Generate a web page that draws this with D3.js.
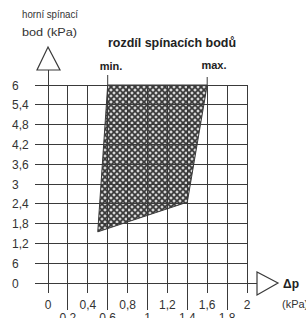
<!DOCTYPE html>
<html><head><meta charset="utf-8">
<script src="https://cdn.jsdelivr.net/npm/d3@7"></script>
<style>
html,body{margin:0;padding:0;background:#fff;}
svg{display:block;font-family:"Liberation Sans Narrow","Liberation Sans",Arial,sans-serif;}
</style></head>
<body>
<svg id="c" width="306" height="318"></svg>
<script>
// data
const xTicks = [0,0.2,0.4,0.6,0.8,1,1.2,1.4,1.6,1.8,2];
const xTickLabels = ["0","0,2","0,4","0,6","0,8","1","1,2","1,4","1,6","1,8","2"];
const yTicks = [0,0.6,1.2,1.8,2.4,3,3.6,4.2,4.8,5.4,6];
const yTickLabels = ["0","6","1,2","1,8","2,4","3","3,6","4,2","4,8","5,4","6"];
const regionX = [0.6, 1.6, 1.4, 0.5];
const regionY = [6, 6, 2.45, 1.55];
const minX = 0.6, maxX = 1.6;
const title = "rozdíl spínacích bodů";
const yTitle = ["horní spínací","bod (kPa)"];
const xTitle = ["Δp","(kPa)"];

const svg = d3.select("#c");
const x = d3.scaleLinear().domain([0,2]).range([48,247]);
const y = d3.scaleLinear().domain([0,6]).range([283,85]);
const ink = "#3a3a3a";

// hatch pattern
const defs = svg.append("defs");
const pat = defs.append("pattern").attr("id","hatch").attr("patternUnits","userSpaceOnUse")
  .attr("width",6).attr("height",6);
pat.append("rect").attr("width",6).attr("height",6).attr("fill","#d8d8d8");
pat.append("path").attr("d","M0,0L6,6M6,0L0,6M-3,3L3,9M3,-3L9,3M-3,3L3,-3M3,9L9,3")
  .attr("stroke","#3a3a3a").attr("stroke-width",1.7).attr("fill","none");

// region
svg.append("polygon")
  .attr("points", regionX.map((d,i)=>[x(d),y(regionY[i])].join(",")).join(" "))
  .attr("fill","url(#hatch)").attr("stroke",ink).attr("stroke-width",1);

// horizontal grid
svg.append("g").selectAll("line").data(yTicks).join("line")
  .attr("x1",35).attr("x2",(d)=> d===0 ? 257 : x(2))
  .attr("y1",d=>y(d)).attr("y2",d=>y(d))
  .attr("stroke",ink).attr("stroke-width",1).attr("shape-rendering","crispEdges");

// vertical grid + ticks
svg.append("g").selectAll("line").data(xTicks).join("line")
  .attr("x1",d=>x(d)).attr("x2",d=>x(d))
  .attr("y1",d=> d===0 ? 70 : y(6))
  .attr("y2",(d,i)=> i%2===0 ? 293 : 310)
  .attr("stroke",ink).attr("stroke-width",1).attr("shape-rendering","crispEdges");

// min / max markers
svg.append("line").attr("x1",x(minX)).attr("x2",x(minX)).attr("y1",75).attr("y2",y(6)).attr("stroke",ink);
svg.append("line").attr("x1",x(maxX)).attr("x2",x(maxX)).attr("y1",77).attr("y2",y(6)).attr("stroke",ink);

// axis arrows
svg.append("path").attr("d",`M${x(0)},47L60,70L37,70Z`).attr("fill","#fff").attr("stroke",ink).attr("stroke-width",1.2);
svg.append("path").attr("d",`M278,${y(0)}L257,272L257,295Z`).attr("fill","#fff").attr("stroke",ink).attr("stroke-width",1.2);

// y tick labels
svg.append("g").selectAll("text").data(yTicks).join("text")
  .attr("x",12).attr("y",d=>y(d)+4.5)
  .attr("font-size",12).attr("fill","#333")
  .text((d,i)=>yTickLabels[i]);

// x tick labels
svg.append("g").selectAll("text").data(xTicks).join("text")
  .attr("x",d=>x(d)).attr("y",(d,i)=> i%2===0 ? 309 : 322)
  .attr("text-anchor","middle").attr("font-size",12).attr("fill","#333")
  .text((d,i)=>xTickLabels[i]);

// titles
svg.append("text").attr("x",108).attr("y",47).attr("font-size",12).attr("font-weight","bold")
  .attr("fill","#222").attr("textLength",128).attr("lengthAdjust","spacingAndGlyphs").text(title);
svg.append("text").attr("x",111).attr("y",70).attr("text-anchor","middle").attr("font-size",11)
  .attr("font-weight","bold").attr("fill","#222").text("min.");
svg.append("text").attr("x",214).attr("y",69).attr("text-anchor","middle").attr("font-size",11)
  .attr("font-weight","bold").attr("fill","#222").text("max.");
svg.append("text").attr("x",22).attr("y",18).attr("font-size",11).attr("fill","#333")
  .attr("textLength",56).attr("lengthAdjust","spacingAndGlyphs").text(yTitle[0]);
svg.append("text").attr("x",22).attr("y",36).attr("font-size",11).attr("fill","#333")
  .attr("textLength",55).attr("lengthAdjust","spacingAndGlyphs").text(yTitle[1]);
svg.append("text").attr("x",283).attr("y",288).attr("font-size",12).attr("font-weight","bold")
  .attr("fill","#222").text(xTitle[0]);
svg.append("text").attr("x",282).attr("y",308).attr("font-size",11).attr("fill","#333").text(xTitle[1]);
</script>
</body></html>
